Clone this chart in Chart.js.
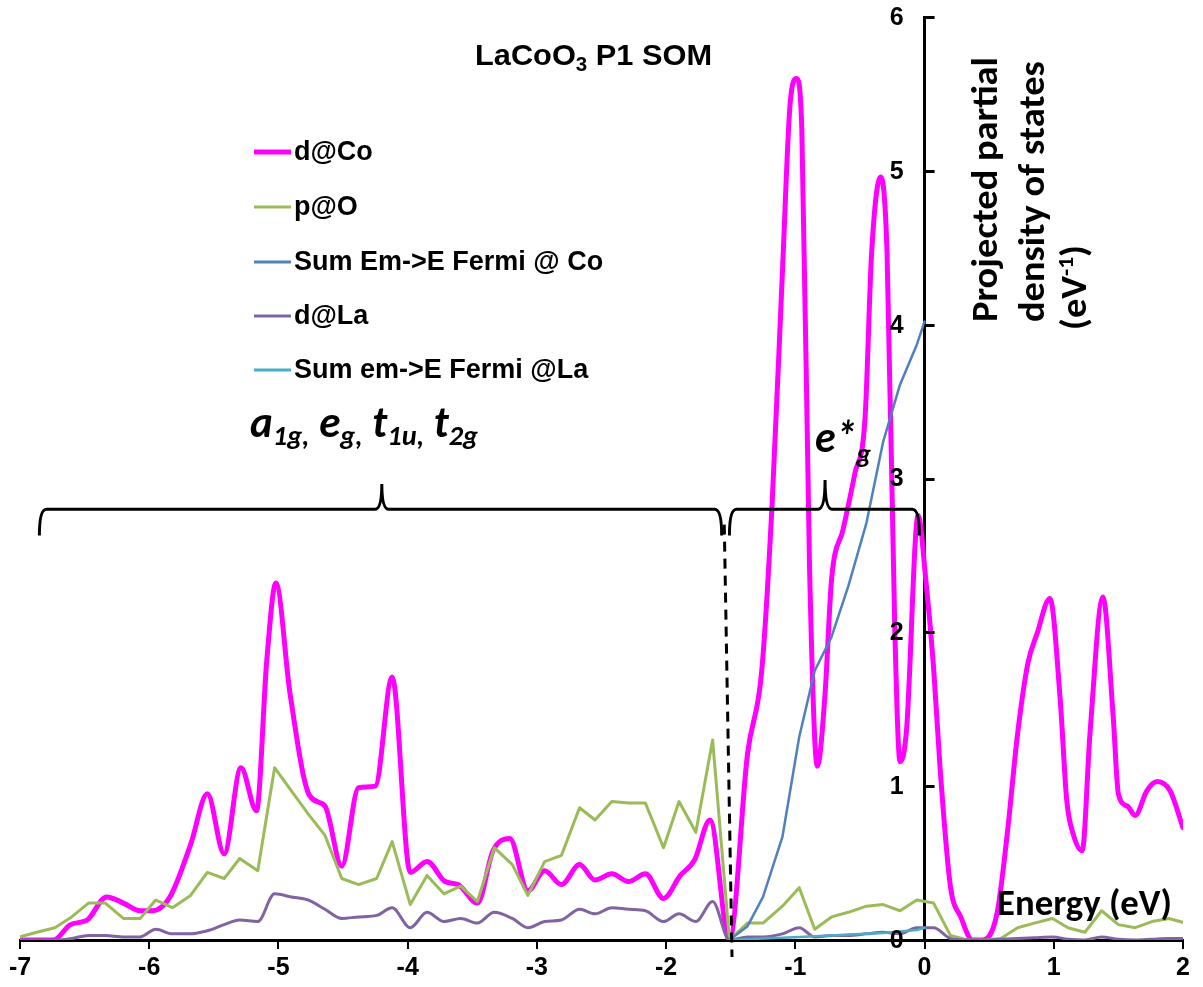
<!DOCTYPE html>
<html>
<head>
<meta charset="utf-8">
<script src="https://cdn.jsdelivr.net/npm/chart.js@4/dist/chart.umd.min.js"></script>
<style>
  html, body { margin: 0; padding: 0; background: #fff; }
  #wrap { width: 1203px; height: 987px; }
</style>
</head>
<body>
<div id="wrap"><canvas id="pdos" width="1203" height="987"></canvas></div>
<script>
// Projected partial DOS of LaCoO3 (P1, SOM); energies in eV, DOS in eV^-1.
const energyCo = [-7.00,-6.74,-6.61,-6.48,-6.33,-6.20,-6.07,-5.98,-5.84,-5.68,-5.55,-5.42,-5.29,-5.17,-5.09,-5.02,-4.91,-4.76,-4.64,-4.51,-4.38,-4.25,-4.12,-3.98,-3.85,-3.71,-3.61,-3.46,-3.34,-3.21,-3.07,-2.94,-2.81,-2.67,-2.55,-2.42,-2.29,-2.16,-2.02,-1.89,-1.78,-1.66,-1.51,-1.37,-1.26,-1.18,-1.10,-1.04,-0.99,-0.95,-0.89,-0.83,-0.77,-0.72,-0.63,-0.54,-0.46,-0.41,-0.34,-0.29,-0.23,-0.19,-0.14,-0.05,0.01,0.07,0.12,0.20,0.28,0.37,0.45,0.56,0.64,0.72,0.80,0.87,0.97,1.05,1.10,1.15,1.22,1.28,1.38,1.46,1.50,1.57,1.63,1.72,1.80,1.90,2.00];
const dosCoD   = [0,0,0.10,0.13,0.28,0.24,0.19,0.19,0.28,0.62,0.95,0.56,1.12,0.84,1.82,2.32,1.60,0.94,0.87,0.48,0.99,1.00,1.71,0.44,0.51,0.38,0.36,0.24,0.58,0.66,0.32,0.45,0.36,0.49,0.39,0.43,0.38,0.43,0.27,0.42,0.52,0.78,0,1.21,1.75,2.83,4.34,5.44,5.60,5.28,2.42,1.13,1.60,2.34,2.67,3.03,3.40,4.46,4.96,4.46,2.01,1.16,1.36,2.76,2.34,1.77,1.12,0.35,0.15,0,0,0.17,0.69,1.34,1.80,1.99,2.22,1.56,0.91,0.69,0.58,1.34,2.23,1.45,0.95,0.87,0.81,0.97,1.03,0.97,0.73];

const energyGrid = [-7.00,-6.87,-6.73,-6.60,-6.47,-6.34,-6.20,-6.07,-5.95,-5.82,-5.68,-5.55,-5.42,-5.30,-5.16,-5.03,-4.90,-4.77,-4.64,-4.51,-4.38,-4.24,-4.12,-3.98,-3.85,-3.72,-3.59,-3.46,-3.33,-3.19,-3.07,-2.94,-2.81,-2.67,-2.55,-2.42,-2.29,-2.16,-2.02,-1.90,-1.77,-1.64,-1.51,-1.37,-1.25,-1.10,-0.97,-0.85,-0.72,-0.59,-0.45,-0.32,-0.19,-0.06,0.07,0.20,0.33,0.46,0.59,0.72,0.85,0.99,1.11,1.24,1.37,1.50,1.63,1.76,1.89,2.02];
const dosOP    = [0.02,0.05,0.08,0.15,0.24,0.24,0.14,0.14,0.26,0.21,0.29,0.44,0.40,0.53,0.45,1.12,0.97,0.82,0.68,0.40,0.36,0.40,0.64,0.23,0.42,0.30,0.35,0.25,0.60,0.49,0.29,0.51,0.55,0.86,0.78,0.90,0.89,0.89,0.60,0.90,0.70,1.30,0,0.11,0.11,0.22,0.34,0.07,0.15,0.18,0.22,0.23,0.19,0.26,0.24,0.03,0,0,0.01,0.08,0.11,0.14,0.08,0.05,0.19,0.10,0.08,0.12,0.14,0.11];
const dosLaD   = [0,0,0,0.01,0.03,0.03,0.02,0.02,0.07,0.04,0.04,0.06,0.10,0.13,0.12,0.30,0.28,0.26,0.20,0.14,0.15,0.16,0.21,0.08,0.18,0.12,0.14,0.11,0.18,0.14,0.08,0.12,0.13,0.20,0.17,0.21,0.20,0.19,0.12,0.17,0.12,0.25,0,0.02,0.02,0.04,0.08,0.02,0.03,0.03,0.04,0.05,0.04,0.08,0.08,0.01,0,0,0.005,0.01,0.015,0.02,0.005,0,0.02,0.005,0,0.005,0.01,0.01];

const energySum = [-1.51,-1.37,-1.25,-1.10,-0.97,-0.85,-0.72,-0.59,-0.45,-0.32,-0.19,-0.06,0.00];
const sumCo     = [0,0.09,0.28,0.67,1.32,1.75,1.97,2.30,2.71,3.24,3.61,3.87,4.02];
const sumLa     = [0,0.005,0.01,0.015,0.02,0.025,0.03,0.035,0.04,0.045,0.055,0.065,0.08];

const seriesNames = ['d@Co', 'p@O', 'Sum Em->E Fermi @ Co', 'd@La', 'Sum em->E Fermi @La'];
const seriesColors = ['#FF00FF', '#9BBB59', '#4F81BD', '#8064A2', '#4BACC6'];

const xTicks = [-7, -6, -5, -4, -3, -2, -1, 0, 1, 2];
const yTicks = [0, 1, 2, 3, 4, 5, 6];

const pairs = (xs, ys) => xs.map((x, i) => ({ x, y: ys[i] }));

const ARIAL = '"Liberation Sans", Arial, sans-serif';
const CALIBRI = 'Carlito, Lato, "Open Sans", sans-serif';

function runsWidth(ctx, runs) {
  let w = 0;
  for (const r of runs) { ctx.font = r.font; w += ctx.measureText(r.text).width; }
  return w;
}
// draw a row of text runs (normal / sub / superscript), optionally squeezed to a width
function drawRuns(ctx, runs, x, y, targetWidth) {
  const w = runsWidth(ctx, runs);
  const s = targetWidth ? targetWidth / w : 1;
  ctx.save();
  ctx.translate(x, y);
  ctx.scale(s, 1);
  let cx = 0;
  for (const r of runs) {
    ctx.font = r.font;
    ctx.fillText(r.text, cx, r.dy || 0);
    cx += ctx.measureText(r.text).width;
  }
  ctx.restore();
}

function brace(ctx, x0, x1, xp, yH, yTip, yPeak) {
  const r = 7;
  ctx.beginPath();
  ctx.moveTo(x0, yTip);
  ctx.quadraticCurveTo(x0, yH, x0 + r, yH);
  ctx.lineTo(xp - r, yH);
  ctx.quadraticCurveTo(xp, yH, xp, yPeak);
  ctx.quadraticCurveTo(xp, yH, xp + r, yH);
  ctx.lineTo(x1 - r, yH);
  ctx.quadraticCurveTo(x1, yH, x1, yTip);
  ctx.stroke();
}

const decorations = {
  id: 'decorations',
  afterDraw(chart) {
    const ctx = chart.ctx;
    const xs = chart.scales.x, ys = chart.scales.y;
    const X = v => xs.getPixelForValue(v);
    const Y = v => ys.getPixelForValue(v);
    ctx.save();
    ctx.fillStyle = '#000';
    ctx.strokeStyle = '#000';
    ctx.textBaseline = 'alphabetic';
    ctx.textAlign = 'left';

    // y-axis: tick marks to the right of the axis, labels to the left
    const ax = X(0);
    ctx.lineWidth = 3;
    ctx.beginPath();
    for (const t of ys.ticks) {
      const yy = Math.round(Y(t.value)) + 0.5;
      ctx.moveTo(ax, yy);
      ctx.lineTo(ax + 10, yy);
    }
    ctx.stroke();
    ctx.font = 'bold 25px ' + ARIAL;
    ctx.textAlign = 'right';
    ctx.textBaseline = 'middle';
    for (const t of ys.ticks) {
      ctx.fillText(String(t.value), ax - 21, Y(t.value) + 1);
    }
    ctx.textAlign = 'left';
    ctx.textBaseline = 'alphabetic';

    // title
    const tf = 'bold 30px ' + ARIAL;
    drawRuns(ctx, [
      { text: 'LaCoO', font: tf },
      { text: '3', font: 'bold 20px ' + ARIAL, dy: 6 },
      { text: ' P1 SOM', font: tf }
    ], 475, 65, 237);

    // legend
    const rows = [152, 207, 262, 316, 370];
    chart.data.datasets.forEach((ds, i) => {
      ctx.strokeStyle = ds.borderColor;
      ctx.lineWidth = i === 0 ? 5 : 3;
      ctx.beginPath();
      ctx.moveTo(254, rows[i]);
      ctx.lineTo(291, rows[i]);
      ctx.stroke();
      ctx.fillStyle = '#000';
      ctx.font = 'bold 27px ' + ARIAL;
      ctx.textBaseline = 'middle';
      ctx.fillText(ds.label, 294, rows[i] + 1);
    });
    ctx.textBaseline = 'alphabetic';

    // axis titles
    const cf = 'bold 36px ' + CALIBRI;
    drawRuns(ctx, [{ text: 'Energy (eV)', font: cf }], 997, 915, 175);

    const line1 = [{ text: 'Projected partial', font: cf }];
    const sY = 265 / runsWidth(ctx, line1);
    const rotated = (runs, bx, by) => {
      ctx.save();
      ctx.translate(bx, by);
      ctx.rotate(-Math.PI / 2);
      drawRuns(ctx, runs, 0, 0, runsWidth(ctx, runs) * sY);
      ctx.restore();
    };
    rotated(line1, 997, 322);
    rotated([{ text: 'density of states', font: cf }], 1044, 322);
    rotated([
      { text: '(eV', font: cf },
      { text: '-1', font: 'bold 22px ' + CALIBRI, dy: -13 },
      { text: ')', font: cf }
    ], 1086, 330);

    // band annotations
    const ib = 'italic bold 44px ' + CALIBRI;
    const is = 'italic bold 29px ' + CALIBRI;
    drawRuns(ctx, [
      { text: 'a', font: ib }, { text: '1g,', font: is, dy: 8 },
      { text: ' e', font: ib }, { text: 'g,', font: is, dy: 8 },
      { text: ' t', font: ib }, { text: '1u,', font: is, dy: 8 },
      { text: ' t', font: ib }, { text: '2g', font: is, dy: 8 }
    ], X(-5.22), Y(3.27), 228);
    drawRuns(ctx, [
      { text: 'e*', font: ib }, { text: 'g', font: is, dy: 11 }
    ], X(-0.847), Y(3.17), 56);

    // braces over the band groups
    ctx.strokeStyle = '#000';
    ctx.lineWidth = 3;
    brace(ctx, X(-6.85), X(-1.57), X(-4.20), Y(2.80), Y(2.63), Y(2.965));
    brace(ctx, X(-1.51), X(-0.04), X(-0.77), Y(2.80), Y(2.63), Y(2.99));

    // dashed separator at the band edge
    ctx.setLineDash([10, 7]);
    ctx.beginPath();
    ctx.moveTo(X(-1.55), Y(2.70));
    ctx.lineTo(X(-1.49), Y(-0.11));
    ctx.stroke();
    ctx.setLineDash([]);
    ctx.restore();
  }
};

new Chart(document.getElementById('pdos'), {
  type: 'scatter',
  data: {
    datasets: [
      { label: seriesNames[0], data: pairs(energyCo, dosCoD), borderColor: seriesColors[0], borderWidth: 5, cubicInterpolationMode: 'monotone', order: 5 },
      { label: seriesNames[1], data: pairs(energyGrid, dosOP), borderColor: seriesColors[1], borderWidth: 3, tension: 0, order: 4 },
      { label: seriesNames[2], data: pairs(energySum, sumCo), borderColor: seriesColors[2], borderWidth: 2.5, tension: 0, order: 3 },
      { label: seriesNames[3], data: pairs(energyGrid, dosLaD), borderColor: seriesColors[3], borderWidth: 3, cubicInterpolationMode: 'monotone', order: 2 },
      { label: seriesNames[4], data: pairs(energySum, sumLa), borderColor: seriesColors[4], borderWidth: 2.5, tension: 0, order: 1 }
    ].map(d => Object.assign({ showLine: true, pointRadius: 0, pointHoverRadius: 0, fill: false, borderCapStyle: 'round', borderJoinStyle: 'round' }, d))
  },
  options: {
    responsive: false,
    animation: false,
    devicePixelRatio: 1,
    layout: { padding: { left: 20, right: 20, top: 17, bottom: 0 } },
    plugins: { legend: { display: false }, tooltip: { enabled: false } },
    scales: {
      x: {
        type: 'linear', min: -7, max: 2,
        afterBuildTicks: s => { s.ticks = xTicks.map(v => ({ value: v })); },
        afterFit: s => { s.height = 47; },
        ticks: { color: '#000', font: { family: ARIAL, size: 25, weight: 'bold', lineHeight: 1 }, padding: 7, maxRotation: 0 },
        grid: { display: true, drawOnChartArea: false, drawTicks: true, tickLength: 9, color: '#000', lineWidth: 2 },
        border: { display: true, color: '#000', width: 3 }
      },
      y: {
        type: 'linear', min: 0, max: 6, position: { x: 0 },
        afterBuildTicks: s => { s.ticks = yTicks.map(v => ({ value: v })); },
        ticks: { display: false },
        grid: { display: false, drawTicks: false },
        border: { display: true, color: '#000', width: 3 }
      }
    }
  },
  plugins: [decorations]
});
</script>
</body>
</html>
